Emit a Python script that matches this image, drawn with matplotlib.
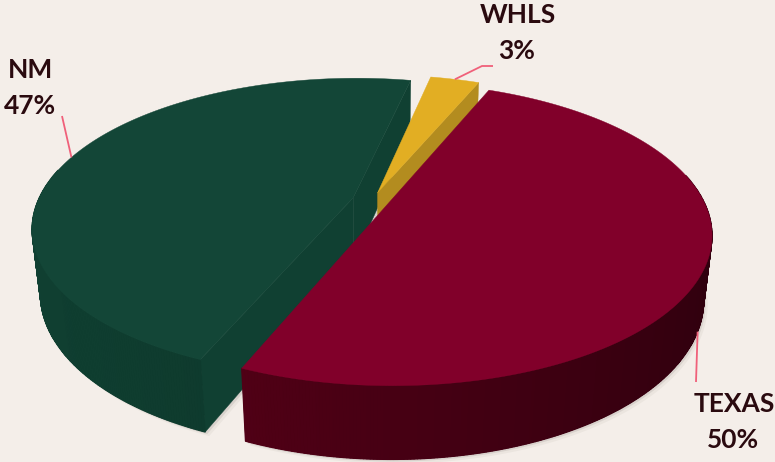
import numpy as np
import matplotlib
matplotlib.use('Agg')
import matplotlib.pyplot as plt
from matplotlib.patches import Polygon
from matplotlib.colors import to_rgb

# ---- data ----
labels = ['WHLS', 'NM', 'TEXAS']
values = [3, 47, 50]

# ---- style ----
top_colors = ['#E2AE23', '#134637', '#81002A']
side_light = ['#B38C1F', '#104032', '#5E0019']
side_dark = ['#A8841C', '#0B3024', '#30000E']
explode = [0.0556, 0.0637, 0.0542]
start_angle = 67.27          # degrees, counter-clockwise
elev = np.radians(27.26)     # camera elevation
dist = 4.438                 # camera distance (in radii)
radius_px = 315.2
center_px = (372.4, 200.4)
depth = 0.2317               # thickness (in radii)
bg = '#F4EEE9'
text_color = '#2A0A0F'
leader_color = '#F0607A'
label_pos = [(518, 23), (31, 78), (734, 412)]
anchor_z = [0.0, 0.0, 1.0]
leader_ends = [[(482, 66), (493, 66)], [(62, 116)], [(696, 382)]]

def proj(x, y, z):
    s, c = np.sin(elev), np.cos(elev)
    w = y * c - z * s + dist
    return x * dist / w, (y * s + z * c) * dist / w

def pt(th, mid, e, z, rf=1.0):
    th = np.radians(np.asarray(th, float)); m = np.radians(mid)
    x = e * np.cos(m) + rf * np.cos(th)
    y = e * np.sin(m) + rf * np.sin(th)
    u, v = proj(x, y, z + 0 * x)
    return center_px[0] + radius_px * u, center_px[1] - radius_px * v

fig = plt.figure(figsize=(7.75, 4.62), dpi=100)
fig.patch.set_facecolor(bg)
ax = fig.add_axes([0, 0, 1, 1])
ax.set_xlim(0, 775); ax.set_ylim(462, 0); ax.axis('off')

total = float(sum(values))
spans = []
a = start_angle
for v in values:
    spans.append((a, a + 360.0 * v / total)); a += 360.0 * v / total
cam = np.array([0, -dist * np.cos(elev), dist * np.sin(elev)])
h = depth

def draw_slice(i):
    a1, a2 = spans[i]; mid = (a1 + a2) / 2; e = explode[i]
    th = np.linspace(a1, a2, max(3, int((a2 - a1) * 2)))
    # soft shadow
    bx, by = pt(th, mid, e, -h)
    ax0, ay0 = pt(0, mid, e, -h, 0.0)
    for off, al in [(2, 0.16), (4, 0.07)]:
        poly = np.column_stack([np.r_[ax0, bx] + off, np.r_[ay0, by] + off])
        ax.add_patch(Polygon(poly, closed=True, fc='#7a7068', ec='none', alpha=al))
    cen = np.array([e * np.cos(np.radians(mid)), e * np.sin(np.radians(mid))])
    # radial faces
    for ang, sgn in [(a1, -1), (a2, 1)]:
        nrm = np.radians(ang + sgn * 90)
        n = np.array([np.cos(nrm), np.sin(nrm), 0])
        fc3 = np.array([cen[0] + 0.5 * np.cos(np.radians(ang)),
                        cen[1] + 0.5 * np.sin(np.radians(ang)), -h / 2])
        if np.dot(n, cam - fc3) > 0:
            x1, y1 = pt(ang, mid, e, 0); x2, y2 = pt(ang, mid, e, -h)
            cxa, cya = pt(0, mid, e, 0, 0.0); cxb, cyb = pt(0, mid, e, -h, 0.0)
            poly = np.array([[cxa, cya], [x1, y1], [x2, y2], [cxb, cyb]])
            ax.add_patch(Polygon(poly, closed=True, fc=side_light[i], ec=side_light[i], lw=0.3))
    # curved outer side
    tx, ty = pt(th, mid, e, 0)
    bx, by = pt(th, mid, e, -h)
    cl = np.array(to_rgb(side_light[i])); cd = np.array(to_rgb(side_dark[i]))
    front = np.sin(np.radians(th)) <= 0.2
    if front.sum() > 1:
        idx = np.where(front)[0]
        und = np.column_stack([np.r_[tx[idx], bx[idx][::-1]], np.r_[ty[idx], by[idx][::-1]]])
        ax.add_patch(Polygon(und, closed=True, fc=(cl + cd) / 2, ec='none'))
    for k in range(len(th) - 1):
        tm = np.radians((th[k] + th[k + 1]) / 2)
        if np.sin(tm) > 0.2:
            continue
        t = (np.cos(tm) + 1) / 2
        col = cl * (1 - t) + cd * t
        poly = np.array([[tx[k], ty[k]], [tx[k + 1], ty[k + 1]],
                         [bx[k + 1], by[k + 1]], [bx[k], by[k]]])
        ax.add_patch(Polygon(poly, closed=True, fc=col, ec=col, lw=0.8))
    # top face
    cxa, cya = pt(0, mid, e, 0, 0.0)
    poly = np.column_stack([np.r_[cxa, tx], np.r_[cya, ty]])
    ax.add_patch(Polygon(poly, closed=True, fc=top_colors[i], ec=top_colors[i], lw=0.3))

for i in [1, 0, 2]:
    draw_slice(i)

# labels and leader lines
for i, (lab, v) in enumerate(zip(labels, values)):
    a1, a2 = spans[i]; mid = (a1 + a2) / 2
    axp, ayp = pt(mid, mid, explode[i], -h * anchor_z[i])
    xs = [float(axp)] + [p[0] for p in leader_ends[i]]
    ys = [float(ayp)] + [p[1] for p in leader_ends[i]]
    ax.plot(xs, ys, color=leader_color, lw=1.3, solid_capstyle='butt')
    lx, ly = label_pos[i]
    pct = '%d%%' % round(100 * v / total)
    ax.text(lx, ly, lab, ha='center', va='baseline', fontsize=19,
            fontfamily='Lato', fontweight='bold', color=text_color)
    ax.text(lx - 1, ly + 36, pct, ha='center', va='baseline', fontsize=19,
            fontfamily='Lato', fontweight='bold', color=text_color)

fig.savefig('out.png', dpi=100, facecolor=fig.get_facecolor())
